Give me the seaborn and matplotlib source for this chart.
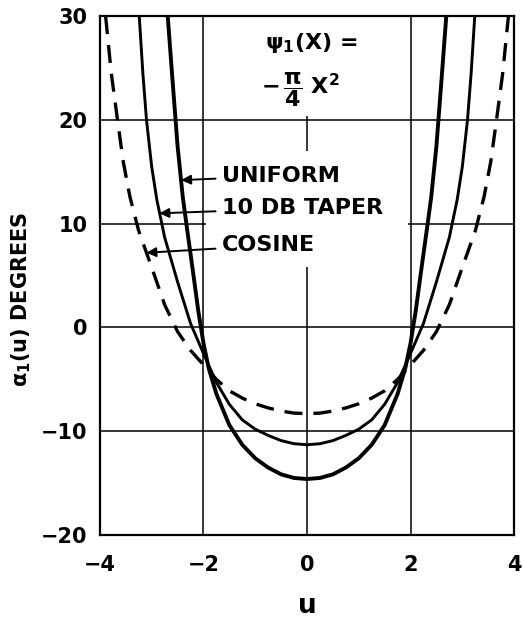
import matplotlib
matplotlib.use("Agg")
import matplotlib.pyplot as plt
import seaborn as sns
import pandas as pd
from matplotlib.patches import Rectangle

# ---- data ----
u_uniform = [-2.69, -2.6, -2.5, -2.4, -2.33, -2.2, -2.1, -2.0, -1.9, -1.75, -1.5, -1.25, -1.0, -0.75, -0.5, -0.25,
             0.0, 0.25, 0.5, 0.75, 1.0, 1.25, 1.5, 1.75, 1.9, 2.0, 2.1, 2.2, 2.33, 2.4, 2.5, 2.6, 2.69]
a_uniform = [30, 24, 17.5, 12.6, 10, 5.3, 1.6, -1.5, -3.9, -6.4, -9.4, -11.3, -12.6, -13.5, -14.15, -14.5,
             -14.6, -14.5, -14.15, -13.5, -12.6, -11.3, -9.4, -6.4, -3.9, -1.5, 1.6, 5.3, 10, 12.6, 17.5, 24, 30]

u_taper = [-3.24, -3.17, -3.1, -3.0, -2.9, -2.75, -2.5, -2.25, -2.0, -1.75, -1.5, -1.25, -1.0, -0.75, -0.5, -0.25,
           0.0, 0.25, 0.5, 0.75, 1.0, 1.25, 1.5, 1.75, 2.0, 2.25, 2.5, 2.75, 2.9, 3.0, 3.1, 3.17, 3.24]
a_taper = [30, 24.5, 20, 15.5, 12.3, 8.7, 4.4, 0.4, -2.5, -5.3, -7.4, -8.9, -9.8, -10.4, -10.9, -11.2,
           -11.3, -11.2, -10.9, -10.4, -9.8, -8.9, -7.4, -5.3, -2.5, 0.4, 4.4, 8.7, 12.3, 15.5, 20, 24.5, 30]

u_cosine = [-3.89, -3.78, -3.66, -3.55, -3.42, -3.25, -3.0, -2.75, -2.5, -2.25, -2.0, -1.75, -1.5, -1.25, -1.0,
            -0.75, -0.5, -0.25, 0.0, 0.25, 0.5, 0.75, 1.0, 1.25, 1.5, 1.75, 2.0, 2.25, 2.5, 2.75, 3.0, 3.25,
            3.42, 3.55, 3.66, 3.78, 3.89]
a_cosine = [30, 24.5, 20, 16, 12.6, 9.3, 5.8, 2.2, -0.4, -2.2, -3.6, -5.0, -6.1, -6.8, -7.35,
            -7.75, -8.05, -8.25, -8.3, -8.25, -8.05, -7.75, -7.35, -6.8, -6.1, -5.0, -3.6, -2.2, -0.4, 2.2, 5.8, 9.3,
            12.6, 16, 20, 24.5, 30]

labels = ["UNIFORM", "10 DB TAPER", "COSINE"]
x_ticks = [-4, -2, 0, 2, 4]
y_ticks = [-20, -10, 0, 10, 20, 30]

# ---- plotting ----
sns.set_theme(style="white")
plt.rcParams['font.family'] = ['DejaVu Sans']
plt.rcParams['text.color'] = 'black'
plt.rcParams['axes.labelcolor'] = 'black'
plt.rcParams['xtick.color'] = 'black'
plt.rcParams['ytick.color'] = 'black'
plt.rcParams['mathtext.default'] = 'regular'

fig = plt.figure(figsize=(5.23, 6.20), dpi=100)
ax = fig.add_axes([0.191, 0.137, 0.792, 0.837])

df_u = pd.DataFrame({"u": u_uniform, "a": a_uniform})
df_t = pd.DataFrame({"u": u_taper, "a": a_taper})
df_c = pd.DataFrame({"u": u_cosine, "a": a_cosine})

sns.lineplot(data=df_u, x="u", y="a", ax=ax, color="black", lw=2.8, sort=False, estimator=None)
sns.lineplot(data=df_t, x="u", y="a", ax=ax, color="black", lw=2.1, sort=False, estimator=None)
sns.lineplot(data=df_c, x="u", y="a", ax=ax, color="black", lw=2.4, sort=False, estimator=None,
             dashes=False, linestyle=(0, (5.4, 3.3)))

ax.set_xlim(-4, 4)
ax.set_ylim(-20, 30)
ax.set_xticks(x_ticks)
ax.set_yticks(y_ticks)
ax.grid(True, color="black", lw=1.1)
ax.set_axisbelow(True)
for s in ax.spines.values():
    s.set_color("black")
    s.set_linewidth(1.6)
ax.tick_params(axis="both", length=0, labelsize=15, colors="black")
for lab in ax.get_xticklabels() + ax.get_yticklabels():
    lab.set_fontweight("bold")
ax.tick_params(axis="y", pad=9)
ax.tick_params(axis="x", pad=14)

# white areas behind the lettering (grid interrupted in the original)
ax.add_patch(Rectangle((-1.95, 5.8), 3.9, 11.2, facecolor="white", edgecolor="none", zorder=1))
ax.add_patch(Rectangle((-1.2, 20.4), 2.4, 9.6, facecolor="white", edgecolor="none", zorder=1))

ax.set_xlabel("u", fontsize=19, fontweight="bold")
ax.xaxis.set_label_coords(0.5, -0.112)
ax.set_ylabel(r"$\alpha_1$(u) DEGREES", fontsize=15, fontweight="bold")
ax.yaxis.set_label_coords(-0.162, 0.455)

ax.text(0.08, 27.4, r"$\psi_1$(X) =", fontsize=16, fontweight="bold", ha="center", va="center")
ax.text(-0.12, 22.9, r"$-\,\dfrac{\pi}{4}\ X^2$", fontsize=16, fontweight="bold", ha="center", va="center")

arrow = dict(arrowstyle="-|>", color="black", lw=1.4, mutation_scale=14, shrinkA=2, shrinkB=0)
ax.annotate(labels[0], xy=(-2.43, 14.2), xytext=(-1.65, 14.6), fontsize=16, fontweight="bold",
            ha="left", va="center", arrowprops=arrow, zorder=4)
ax.annotate(labels[1], xy=(-2.85, 11.0), xytext=(-1.65, 11.5), fontsize=16, fontweight="bold",
            ha="left", va="center", arrowprops=arrow, zorder=4)
ax.annotate(labels[2], xy=(-3.1, 7.2), xytext=(-1.65, 7.9), fontsize=16, fontweight="bold",
            ha="left", va="center", arrowprops=arrow, zorder=4)

fig.savefig("out.png", dpi=100)
